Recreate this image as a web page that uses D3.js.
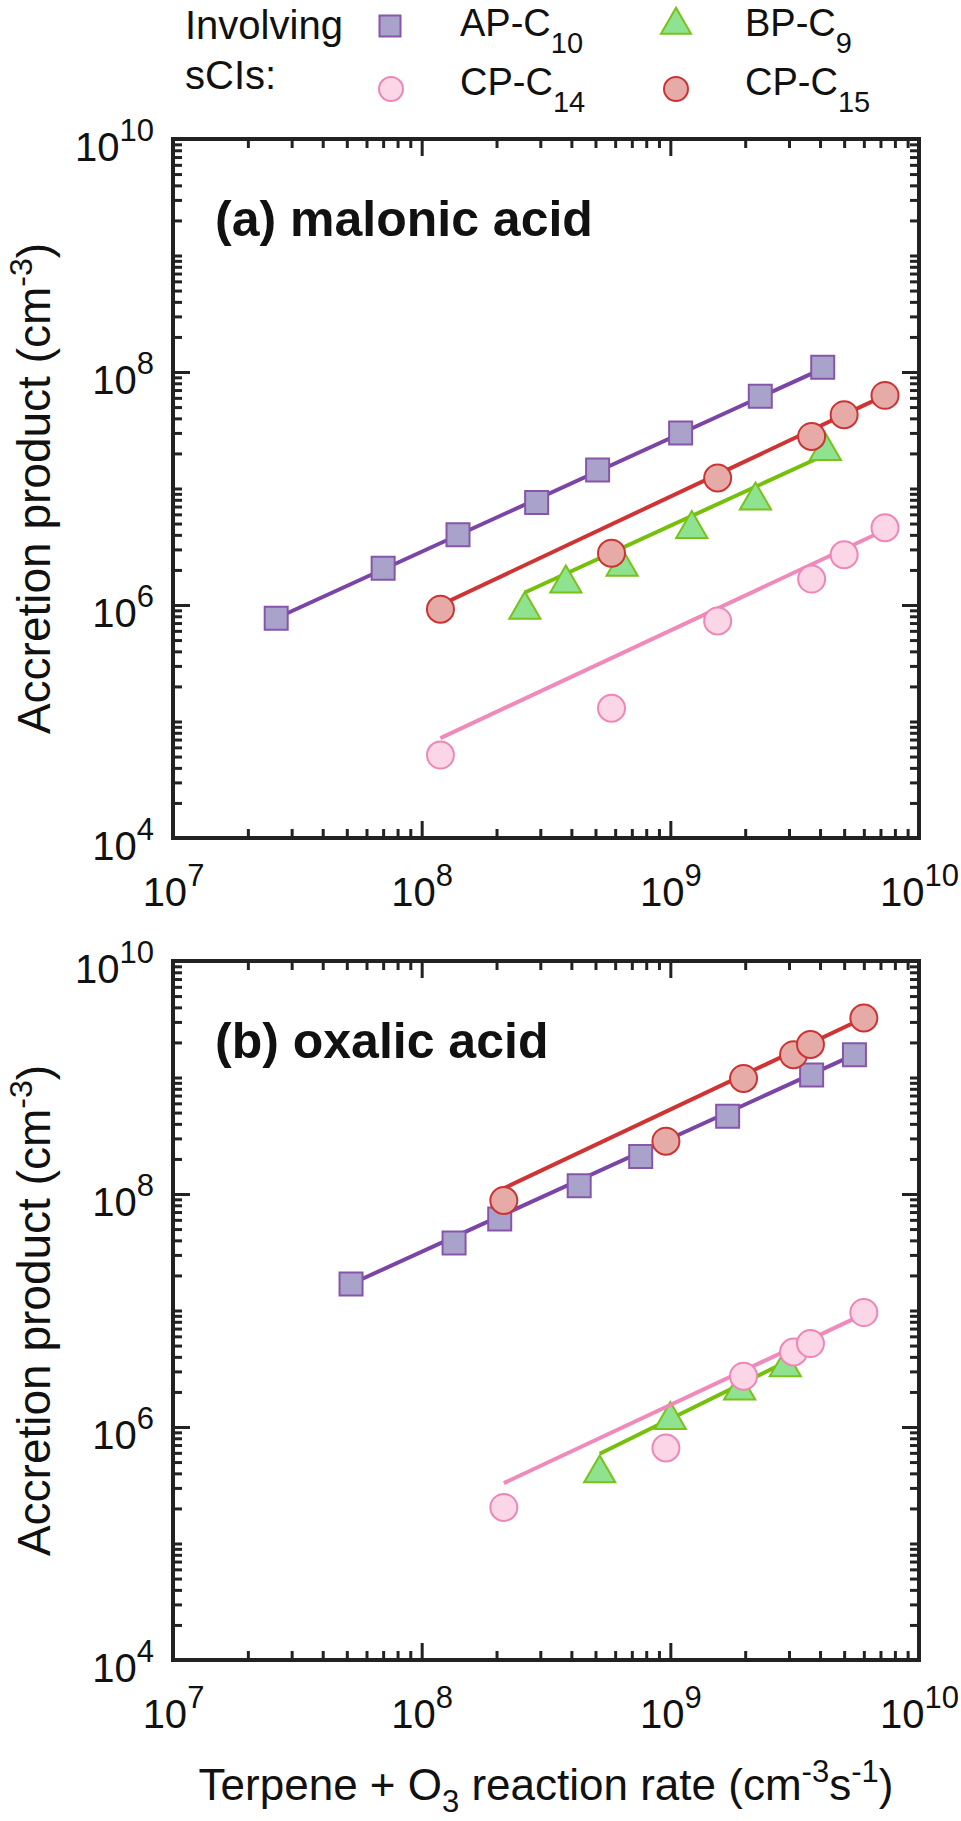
<!DOCTYPE html>
<html>
<head>
<meta charset="utf-8">
<script src="https://cdn.jsdelivr.net/npm/d3@7"></script>
<style>
  body { margin: 0; background: #fff; }
  text { font-family: "Liberation Sans", Arial, sans-serif; fill: #111; }
</style>
</head>
<body>
<div id="chart"></div>
<script>
"use strict";

// tick labels (powers of ten)
const xTickExps = [7, 8, 9, 10];
const yTickExps = [4, 6, 8, 10];

// legend
const legendNames = ["AP-C", "BP-C", "CP-C", "CP-C"];
const legendSubs = ["10", "9", "14", "15"];

// (a) malonic acid
const apA_x = [2.6e7, 7.0e7, 1.4e8, 2.9e8, 5.1e8, 1.1e9, 2.3e9, 4.1e9];
const apA_y = [7.7e5, 2.07e6, 4.0e6, 7.6e6, 1.44e7, 3.0e7, 6.2e7, 1.1e8];
const bpA_x = [2.6e8, 3.8e8, 6.4e8, 1.22e9, 2.2e9, 4.2e9];
const bpA_y = [9.1e5, 1.53e6, 2.13e6, 4.5e6, 7.9e6, 2.1e7];
const cpA_x = [1.19e8, 5.8e8, 1.55e9, 3.7e9, 5.0e9, 7.3e9];
const cp14A_y = [5.15e4, 1.3e5, 7.3e5, 1.67e6, 2.7e6, 4.6e6];
const cp15A_y = [9.2e5, 2.78e6, 1.23e7, 2.8e7, 4.3e7, 6.3e7];

// fitted lines (a): [x0, x1], [y0, y1]
const apA_fitX = [2.6e7, 4.1e9], apA_fitY = [7.7e5, 1.07e8];
const bpA_fitX = [2.6e8, 4.2e9], bpA_fitY = [1.28e6, 1.95e7];
const cp14A_fitX = [1.19e8, 7.3e9], cp14A_fitY = [7.2e4, 4.4e6];
const cp15A_fitX = [1.19e8, 7.3e9], cp15A_fitY = [1.0e6, 6.3e7];

// (b) oxalic acid
const apB_x = [5.2e7, 1.35e8, 2.06e8, 4.3e8, 7.6e8, 1.7e9, 3.7e9, 5.5e9];
const apB_y = [1.69e7, 3.8e7, 6.1e7, 1.18e8, 2.1e8, 4.65e8, 1.05e9, 1.57e9];
const bpB_x = [5.2e8, 1.0e9, 1.9e9, 2.9e9];
const bpB_y = [4.0e5, 1.15e6, 2.06e6, 3.25e6];
const cpB_x = [2.14e8, 9.6e8, 1.97e9, 3.13e9, 3.66e9, 6.0e9];
const cp14B_y = [2.04e5, 6.6e5, 2.73e6, 4.4e6, 5.2e6, 9.6e6];
const cp15B_y = [8.8e7, 2.84e8, 9.8e8, 1.57e9, 1.92e9, 3.24e9];

// fitted lines (b)
const apB_fitX = [5.2e7, 5.5e9], apB_fitY = [1.69e7, 1.57e9];
const bpB_fitX = [5.2e8, 2.9e9], bpB_fitY = [5.9e5, 3.6e6];
const cp14B_fitX = [2.14e8, 6.0e9], cp14B_fitY = [3.3e5, 9.3e6];
const cp15B_fitX = [2.14e8, 6.0e9], cp15B_fitY = [1.12e8, 3.24e9];

const width = 961;
const height = 1821;
const plotLeft = 173;
const plotW = 746;
const plotH = 699;
const panelTops = [139, 961];
const majorLen = 17;
const minorLen = 9;
const fontFamily = '"Liberation Sans", Arial, sans-serif';

const styles = [
  { type: d3.symbolSquare,   size: 529, fill: "#a9a3cb", stroke: "#8755aa", line: "#7b45a6" },
  { type: d3.symbolTriangle, size: 420, fill: "#8fe28f", stroke: "#79c21a", line: "#76c00c" },
  { type: d3.symbolCircle,   size: 572, fill: "#fad6e7", stroke: "#ef86b7", line: "#f08aba" },
  { type: d3.symbolCircle,   size: 572, fill: "#e6aba7", stroke: "#cc3434", line: "#d03333" },
];

const panels = [
  {
    title: "(a) malonic acid",
    series: [
      { xs: apA_x, ys: apA_y, fx: apA_fitX, fy: apA_fitY },
      { xs: bpA_x, ys: bpA_y, fx: bpA_fitX, fy: bpA_fitY },
      { xs: cpA_x, ys: cp14A_y, fx: cp14A_fitX, fy: cp14A_fitY },
      { xs: cpA_x, ys: cp15A_y, fx: cp15A_fitX, fy: cp15A_fitY },
    ],
  },
  {
    title: "(b) oxalic acid",
    series: [
      { xs: apB_x, ys: apB_y, fx: apB_fitX, fy: apB_fitY },
      { xs: bpB_x, ys: bpB_y, fx: bpB_fitX, fy: bpB_fitY },
      { xs: cpB_x, ys: cp14B_y, fx: cp14B_fitX, fy: cp14B_fitY },
      { xs: cpB_x, ys: cp15B_y, fx: cp15B_fitX, fy: cp15B_fitY },
    ],
  },
];

const svg = d3.select("#chart")
  .append("svg")
  .attr("width", width)
  .attr("height", height)
  .style("font-family", fontFamily);

const x = d3.scaleLog().domain([1e7, 1e10]).range([0, plotW]);
const y = d3.scaleLog().domain([1e4, 1e10]).range([plotH, 0]);

const xMajor = xTickExps.map(e => Math.pow(10, e));
const xMinor = [];
for (let e = 7; e < 10; e++) for (let m = 2; m <= 9; m++) xMinor.push(m * Math.pow(10, e));
const yMajor = yTickExps.map(e => Math.pow(10, e));
const yMinor = [];
for (let e = 4; e < 10; e++) {
  for (let m = 1; m <= 9; m++) {
    if (m === 1 && yTickExps.includes(e)) continue;
    yMinor.push(m * Math.pow(10, e));
  }
}

function cleanAxis(g) {
  g.select(".domain").remove();
  g.selectAll(".tick line").attr("stroke", "#222").attr("stroke-width", 3);
}

function powerLabel(sel) {
  sel.text(null);
  sel.append("tspan").attr("font-size", 40).text("10");
  sel.append("tspan").attr("font-size", 31).attr("dy", -20).text(d => Math.round(Math.log10(d)));
}

function drawPanel(p, top) {
  const g = svg.append("g").attr("transform", `translate(${plotLeft},${top})`);

  // ticks, all pointing inward
  g.append("g").attr("transform", `translate(0,${plotH})`)
    .call(d3.axisBottom(x).tickValues(xMinor).tickSize(-minorLen).tickSizeOuter(0).tickFormat(""))
    .call(cleanAxis);
  const bx = g.append("g").attr("transform", `translate(0,${plotH})`)
    .call(d3.axisBottom(x).tickValues(xMajor).tickSize(-majorLen).tickSizeOuter(0).tickFormat(d => d))
    .call(cleanAxis);
  bx.selectAll(".tick text")
    .attr("y", 68).attr("dy", null).attr("fill", "#111")
    .attr("text-anchor", "middle")
    .call(powerLabel);

  g.append("g")
    .call(d3.axisTop(x).tickValues(xMinor).tickSize(-minorLen).tickSizeOuter(0).tickFormat(""))
    .call(cleanAxis);
  g.append("g")
    .call(d3.axisTop(x).tickValues(xMajor).tickSize(-majorLen).tickSizeOuter(0).tickFormat(""))
    .call(cleanAxis);

  g.append("g")
    .call(d3.axisLeft(y).tickValues(yMinor).tickSize(-minorLen).tickSizeOuter(0).tickFormat(""))
    .call(cleanAxis);
  const ly = g.append("g")
    .call(d3.axisLeft(y).tickValues(yMajor).tickSize(-majorLen).tickSizeOuter(0).tickFormat(d => d))
    .call(cleanAxis);
  ly.selectAll(".tick text")
    .attr("x", -19).attr("y", 21).attr("dy", null).attr("fill", "#111")
    .attr("text-anchor", "end")
    .call(powerLabel);

  g.append("g").attr("transform", `translate(${plotW},0)`)
    .call(d3.axisRight(y).tickValues(yMinor).tickSize(-minorLen).tickSizeOuter(0).tickFormat(""))
    .call(cleanAxis);
  g.append("g").attr("transform", `translate(${plotW},0)`)
    .call(d3.axisRight(y).tickValues(yMajor).tickSize(-majorLen).tickSizeOuter(0).tickFormat(""))
    .call(cleanAxis);

  g.append("rect")
    .attr("width", plotW).attr("height", plotH)
    .attr("fill", "none").attr("stroke", "#222").attr("stroke-width", 4);

  g.append("text")
    .attr("x", 42).attr("y", 97)
    .attr("font-size", 50).attr("font-weight", "bold")
    .text(p.title);

  const line = d3.line().x(d => x(d[0])).y(d => y(d[1]));

  p.series.forEach((s, i) => {
    const st = styles[i];
    g.append("path")
      .datum(s.fx.map((v, k) => [v, s.fy[k]]))
      .attr("d", line)
      .attr("fill", "none")
      .attr("stroke", st.line)
      .attr("stroke-width", 4);

    g.selectAll(null)
      .data(s.xs.map((v, k) => [v, s.ys[k]]))
      .enter()
      .append("path")
      .attr("d", d3.symbol().type(st.type).size(st.size))
      .attr("transform", d => `translate(${x(d[0])},${y(d[1])})`)
      .attr("fill", st.fill)
      .attr("stroke", st.stroke)
      .attr("stroke-width", 2);
  });

  const yl = svg.append("text")
    .attr("transform", `translate(50,${top + plotH / 2}) rotate(-90)`)
    .attr("text-anchor", "middle")
    .attr("font-size", 46);
  yl.append("tspan").text("Accretion product (cm");
  yl.append("tspan").attr("font-size", 32).attr("dy", -18).text("-3");
  yl.append("tspan").attr("dy", 18).text(")");
}

panels.forEach((p, i) => drawPanel(p, panelTops[i]));

// x axis title
const xl = svg.append("text")
  .attr("x", plotLeft + plotW / 2).attr("y", 1800)
  .attr("text-anchor", "middle")
  .attr("font-size", 44);
xl.append("tspan").text("Terpene + O");
xl.append("tspan").attr("font-size", 31).attr("dy", 12).text("3");
xl.append("tspan").attr("dy", -12).text(" reaction rate (cm");
xl.append("tspan").attr("font-size", 31).attr("dy", -18).text("-3");
xl.append("tspan").attr("dy", 18).text("s");
xl.append("tspan").attr("font-size", 31).attr("dy", -18).text("-1");
xl.append("tspan").attr("dy", 18).text(")");

// legend
const legend = svg.append("g");
legend.append("text").attr("x", 185).attr("y", 39).attr("font-size", 40).text("Involving");
legend.append("text").attr("x", 185).attr("y", 89).attr("font-size", 40).text("sCIs:");

const legendMarkers = [
  { cx: 390, cy: 26, size: 441 },
  { cx: 676, cy: 25, size: 390 },
  { cx: 391, cy: 89, size: 452 },
  { cx: 676, cy: 89, size: 452 },
];
const legendText = [
  { tx: 460, ty: 36 },
  { tx: 745, ty: 36 },
  { tx: 460, ty: 95 },
  { tx: 745, ty: 95 },
];
legendNames.forEach((name, i) => {
  const st = styles[i];
  const m = legendMarkers[i];
  legend.append("path")
    .attr("d", d3.symbol().type(st.type).size(m.size))
    .attr("transform", `translate(${m.cx},${m.cy})`)
    .attr("fill", st.fill).attr("stroke", st.stroke).attr("stroke-width", 2);
  const t = legend.append("text")
    .attr("x", legendText[i].tx).attr("y", legendText[i].ty)
    .attr("font-size", 38);
  t.append("tspan").text(name);
  t.append("tspan").attr("font-size", 29).attr("dy", 17).text(legendSubs[i]);
});
</script>
</body>
</html>
